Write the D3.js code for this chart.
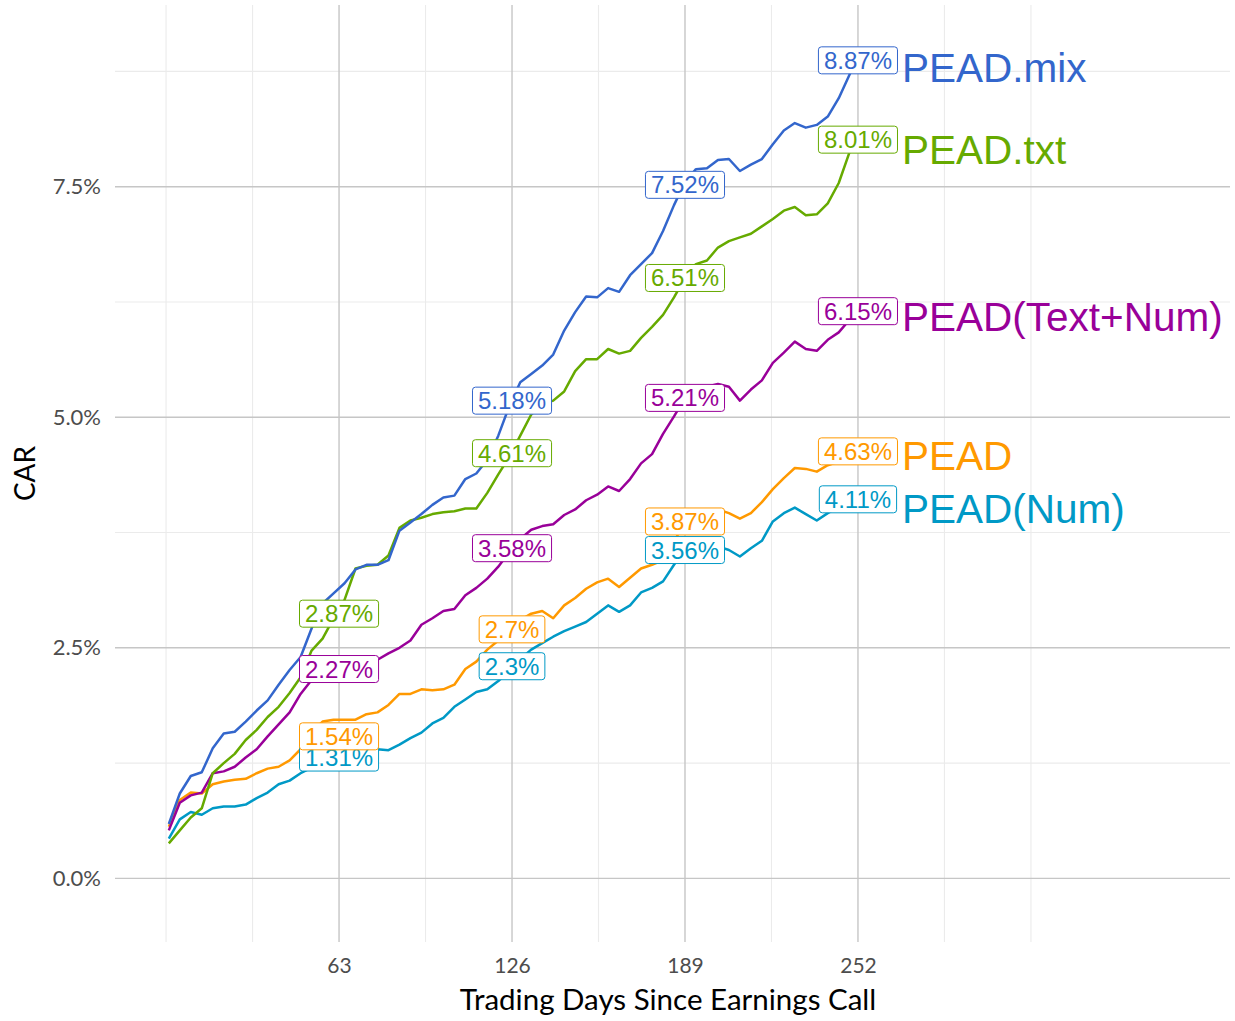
<!doctype html>
<html>
  <head>
    <meta charset="utf8">
    <script src="https://d3js.org/d3.v7.min.js"></script>
    <style type="text/css">
      body { margin: 0; background: #fff; }
      .tick text { font-family: 'Lato', sans-serif; fill: #4d4d4d; }
    </style>
  </head>
  <body>
    <script type="text/javascript">
      const w = 1235;
      const h = 1021;

      // trading days (every 4th day)
      const days = [1, 5, 9, 13, 17, 21, 25, 29, 33, 37, 41, 45, 49, 53, 57, 61, 65, 69, 73, 77,
        81, 85, 89, 93, 97, 101, 105, 109, 113, 117, 121, 125, 129, 133, 137, 141, 145, 149, 153, 157,
        161, 165, 169, 173, 177, 181, 185, 189, 193, 197, 201, 205, 209, 213, 217, 221, 225, 229, 233, 237,
        241, 245, 249, 252];

      const peadMix = [0.59, 0.92, 1.11, 1.15, 1.41, 1.57, 1.59, 1.70, 1.82, 1.93, 2.10, 2.26, 2.40, 2.71, 2.98, 3.09, 3.20, 3.35, 3.40, 3.40,
        3.45, 3.77, 3.86, 3.95, 4.05, 4.13, 4.15, 4.33, 4.39, 4.54, 4.80, 5.12, 5.38, 5.47, 5.56, 5.68, 5.94, 6.14, 6.31, 6.30,
        6.40, 6.36, 6.54, 6.66, 6.78, 7.02, 7.30, 7.55, 7.69, 7.70, 7.79, 7.80, 7.67, 7.74, 7.80, 7.96, 8.11, 8.19, 8.14, 8.17,
        8.26, 8.46, 8.72, 8.87];
      const peadTxt = [0.38, 0.52, 0.66, 0.76, 1.14, 1.25, 1.35, 1.50, 1.61, 1.75, 1.86, 2.01, 2.18, 2.47, 2.60, 2.82, 3.02, 3.36, 3.39, 3.40,
        3.50, 3.80, 3.88, 3.91, 3.95, 3.97, 3.98, 4.01, 4.01, 4.18, 4.38, 4.57, 4.80, 5.03, 5.14, 5.18, 5.28, 5.50, 5.63, 5.63,
        5.74, 5.69, 5.72, 5.86, 5.98, 6.11, 6.30, 6.51, 6.66, 6.70, 6.84, 6.91, 6.95, 6.99, 7.07, 7.15, 7.24, 7.28, 7.19, 7.20,
        7.32, 7.54, 7.88, 8.01];
      const peadTextNum = [0.52, 0.82, 0.90, 0.93, 1.14, 1.16, 1.21, 1.31, 1.40, 1.54, 1.67, 1.80, 2.00, 2.15, 2.22, 2.26, 2.28, 2.30, 2.32, 2.37,
        2.44, 2.50, 2.58, 2.75, 2.82, 2.90, 2.92, 3.07, 3.15, 3.25, 3.38, 3.54, 3.68, 3.78, 3.82, 3.84, 3.94, 4.00, 4.10, 4.16,
        4.25, 4.20, 4.33, 4.50, 4.60, 4.82, 5.01, 5.21, 5.28, 5.33, 5.36, 5.33, 5.18, 5.30, 5.40, 5.59, 5.70, 5.82, 5.74, 5.72,
        5.84, 5.92, 6.06, 6.15];
      const pead = [0.56, 0.85, 0.93, 0.92, 1.02, 1.05, 1.07, 1.08, 1.14, 1.19, 1.21, 1.28, 1.40, 1.58, 1.70, 1.72, 1.72, 1.72, 1.78, 1.80,
        1.88, 2.00, 2.00, 2.05, 2.04, 2.05, 2.10, 2.27, 2.35, 2.48, 2.58, 2.66, 2.80, 2.87, 2.90, 2.82, 2.96, 3.04, 3.14, 3.21,
        3.25, 3.16, 3.26, 3.36, 3.40, 3.45, 3.65, 3.87, 3.95, 4.00, 4.00, 3.96, 3.90, 3.96, 4.08, 4.22, 4.34, 4.45, 4.44, 4.41,
        4.48, 4.52, 4.58, 4.63];
      const peadNum = [0.43, 0.64, 0.72, 0.69, 0.76, 0.78, 0.78, 0.80, 0.87, 0.93, 1.02, 1.06, 1.14, 1.20, 1.26, 1.30, 1.32, 1.33, 1.34, 1.40,
        1.39, 1.45, 1.52, 1.58, 1.68, 1.74, 1.86, 1.94, 2.02, 2.05, 2.14, 2.25, 2.38, 2.48, 2.55, 2.62, 2.68, 2.73, 2.78, 2.87,
        2.96, 2.89, 2.96, 3.10, 3.15, 3.22, 3.40, 3.56, 3.58, 3.60, 3.60, 3.56, 3.49, 3.58, 3.66, 3.87, 3.96, 4.02, 3.95, 3.88,
        3.96, 4.03, 4.08, 4.11];

      // labelled values at each quarter (null = not shown)
      const labelDays = [63, 126, 189, 252];
      const labelMix = [null, 5.18, 7.52, 8.87];
      const labelTxt = [2.87, 4.61, 6.51, 8.01];
      const labelTextNum = [2.27, 3.58, 5.21, 6.15];
      const labelPead = [1.54, 2.7, 3.87, 4.63];
      const labelNum = [1.31, 2.3, 3.56, 4.11];

      const xTicks = [63, 126, 189, 252];
      const xMinor = [0, 31.5, 94.5, 157.5, 220.5, 283.5, 315];
      const yTicks = [0, 2.5, 5, 7.5];
      const yMinor = [1.25, 3.75, 6.25, 8.75];

      // drawn bottom to top; nameDy = baseline shift of the end name
      const series = [
        { name: 'PEAD(Num)', color: '#0099C6', values: peadNum, labels: labelNum, nameDy: 24 },
        { name: 'PEAD', color: '#FF9900', values: pead, labels: labelPead, nameDy: 18.5 },
        { name: 'PEAD(Text+Num)', color: '#990099', values: peadTextNum, labels: labelTextNum, nameDy: 20 },
        { name: 'PEAD.txt', color: '#66AA00', values: peadTxt, labels: labelTxt, nameDy: 24 },
        { name: 'PEAD.mix', color: '#3366CC', values: peadMix, labels: labelMix, nameDy: 21.5 }
      ];

      const xScale = d3.scaleLinear().domain([-18.6, 387.5]).range([115, 1230]);
      const yScale = d3.scaleLinear().domain([-0.69, 9.47]).range([942, 5]);

      const svg = d3.select('body').append('svg')
        .attr('width', w)
        .attr('height', h);

      // grid
      const grid = svg.append('g');
      grid.selectAll('line.ymin').data(yMinor).enter().append('line')
        .attr('x1', 115).attr('x2', 1230)
        .attr('y1', (d) => yScale(d)).attr('y2', (d) => yScale(d))
        .attr('stroke', '#ebebeb').attr('stroke-width', 1.1);
      grid.selectAll('line.xmin').data(xMinor).enter().append('line')
        .attr('y1', 5).attr('y2', 942)
        .attr('x1', (d) => xScale(d)).attr('x2', (d) => xScale(d))
        .attr('stroke', '#ebebeb').attr('stroke-width', 1.1);
      grid.selectAll('line.ymaj').data(yTicks).enter().append('line')
        .attr('x1', 115).attr('x2', 1230)
        .attr('y1', (d) => yScale(d)).attr('y2', (d) => yScale(d))
        .attr('stroke', '#c6c6c6').attr('stroke-width', 1.4);
      grid.selectAll('line.xmaj').data(xTicks).enter().append('line')
        .attr('y1', 5).attr('y2', 942)
        .attr('x1', (d) => xScale(d)).attr('x2', (d) => xScale(d))
        .attr('stroke', '#c6c6c6').attr('stroke-width', 1.4);

      // axes
      const yAxis = svg.append('g')
        .attr('transform', 'translate(101,0)')
        .call(d3.axisLeft(yScale).tickValues(yTicks).tickSize(0).tickPadding(0)
          .tickFormat((d) => d3.format('.1f')(d) + '%'));
      yAxis.select('.domain').remove();
      yAxis.selectAll('text').attr('font-size', '22px');

      const xAxis = svg.append('g')
        .attr('transform', 'translate(0,958)')
        .call(d3.axisBottom(xScale).tickValues(xTicks).tickSize(0).tickPadding(0));
      xAxis.select('.domain').remove();
      xAxis.selectAll('text').attr('font-size', '21px');

      svg.append('text')
        .attr('x', 668)
        .attr('y', 1010)
        .attr('text-anchor', 'middle')
        .attr('font-family', 'Lato, sans-serif')
        .attr('font-size', '29.5px')
        .attr('fill', '#000')
        .text('Trading Days Since Earnings Call');

      svg.append('text')
        .attr('transform', 'translate(35,473.5) rotate(-90)')
        .attr('text-anchor', 'middle')
        .attr('font-family', 'Lato, sans-serif')
        .attr('font-size', '28px')
        .attr('fill', '#000')
        .text('CAR');

      // lines
      const line = d3.line()
        .x((d) => xScale(d[0]))
        .y((d) => yScale(d[1]));

      svg.selectAll('path.car')
        .data(series)
        .enter()
        .append('path')
        .attr('class', 'car')
        .attr('d', (s) => line(days.map((d, i) => [d, s.values[i]])))
        .attr('fill', 'none')
        .attr('stroke', (s) => s.color)
        .attr('stroke-width', 2.5)
        .attr('stroke-linejoin', 'round');

      // value labels
      series.forEach((s) => {
        labelDays.forEach((d, i) => {
          const v = s.labels[i];
          if (v === null) return;
          const g = svg.append('g')
            .attr('transform', 'translate(' + xScale(d) + ',' + yScale(v) + ')');
          const rect = g.append('rect');
          const t = g.append('text')
            .attr('text-anchor', 'middle')
            .attr('y', 8.5)
            .attr('font-family', 'Liberation Sans, Arial, sans-serif')
            .attr('font-size', '24px')
            .attr('fill', s.color)
            .text(v + '%');
          const tw = t.node().getComputedTextLength();
          rect.attr('x', -tw / 2 - 5.5).attr('y', -13.5)
            .attr('width', tw + 11).attr('height', 27)
            .attr('rx', 3).attr('ry', 3)
            .attr('fill', '#fff')
            .attr('stroke', s.color)
            .attr('stroke-width', 1);
        });
      });

      // series names
      svg.selectAll('text.name')
        .data(series)
        .enter()
        .append('text')
        .attr('class', 'name')
        .attr('x', xScale(252) + 44)
        .attr('y', (s) => yScale(s.labels[3]) + s.nameDy)
        .attr('font-family', 'Liberation Sans, Arial, sans-serif')
        .attr('font-size', '40.5px')
        .attr('fill', (s) => s.color)
        .text((s) => s.name);
    </script>
  </body>
</html>
